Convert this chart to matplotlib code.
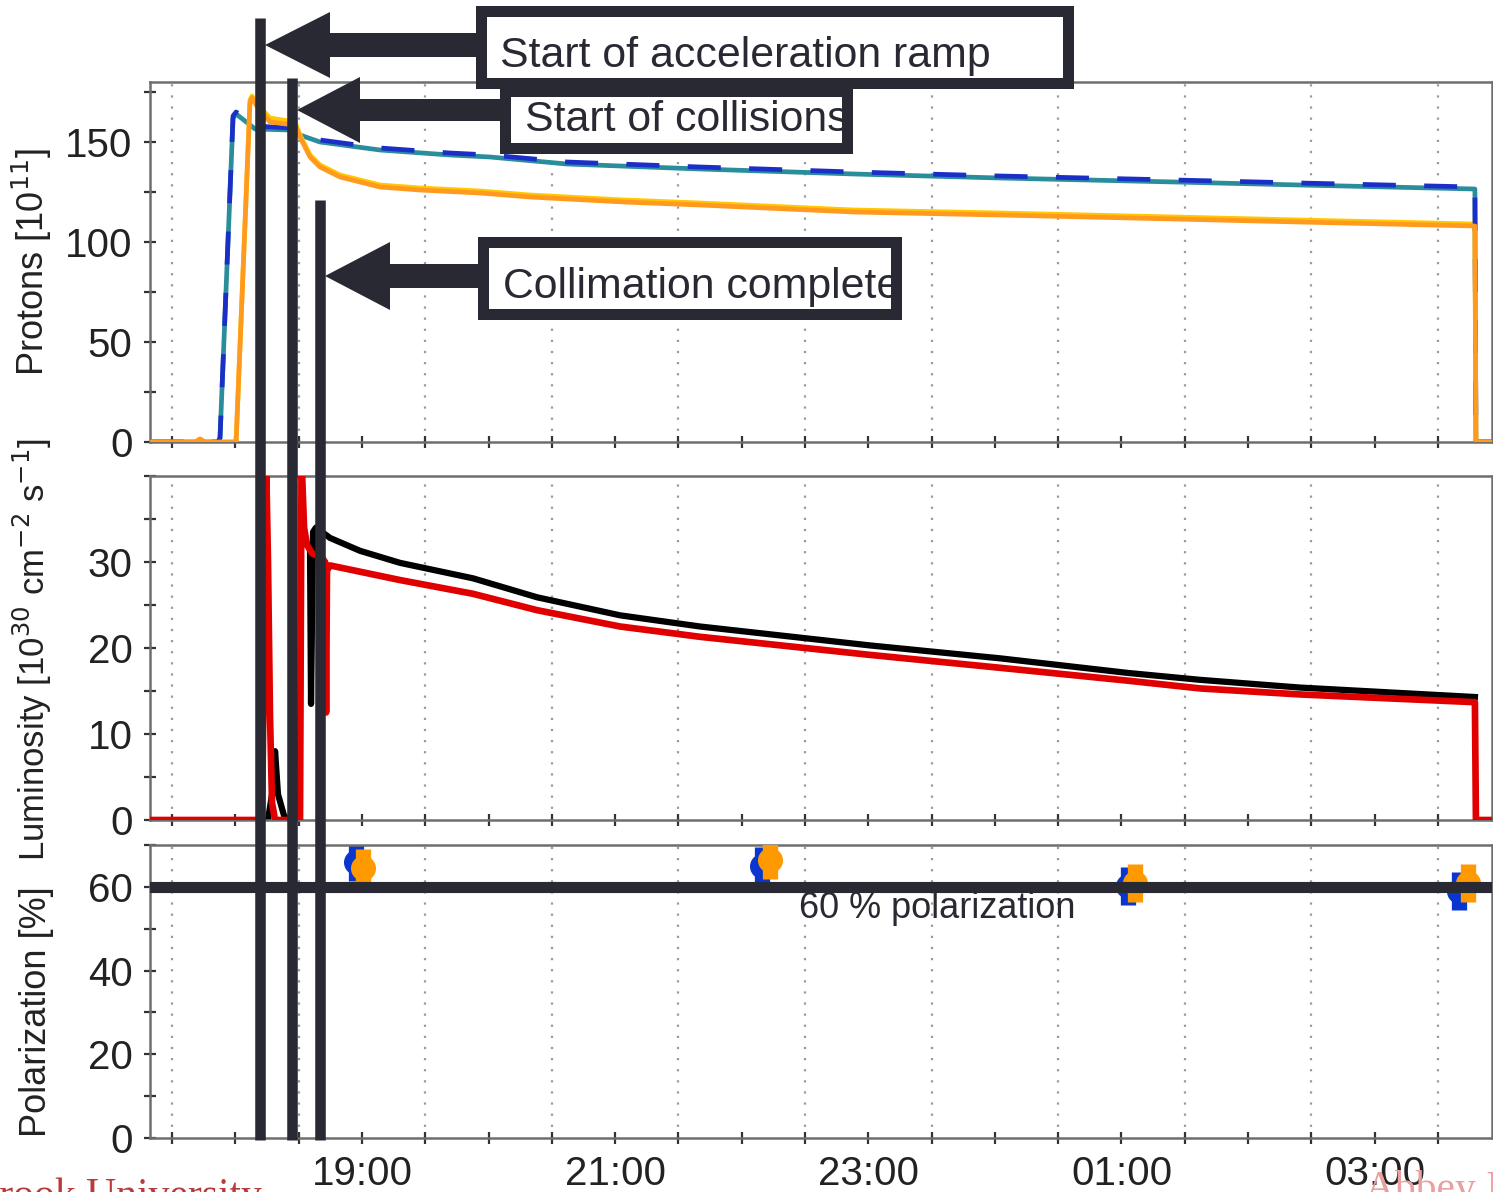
import numpy as np
import matplotlib
matplotlib.use('Agg')
import matplotlib.pyplot as plt
from matplotlib.patches import Polygon, Rectangle
from matplotlib.lines import Line2D
from matplotlib.transforms import blended_transform_factory
from matplotlib.ticker import MultipleLocator, FixedLocator

plt.rcParams['font.family'] = ['Liberation Sans', 'DejaVu Sans']

W, H = 1493, 1192

# ---------------- data (time in hours after 17:00) ----------------
# Protons, blue beam (two overlapping traces)
t_blue = [0.33, 0.863, 0.879, 0.982, 1.006, 1.077, 1.156, 1.432, 1.487, 1.511, 1.669, 2.143,
          2.696, 3.012, 3.620, 4.671, 5.887, 7.040, 8.423, 9.410, 10.792, 10.800, 10.927]
blue = [0, 0, 2, 163, 165, 162, 158, 157, 156, 154.5, 151, 147,
        144.5, 143.5, 140, 137.5, 135, 133, 131, 129.5, 127.5, 0, 0]
teal = [0, 0, 2, 162, 164, 160.5, 156.5, 156, 155, 153.5, 150, 146,
        143.5, 142.5, 139, 136.5, 134, 132, 130, 128.5, 126.5, 0, 0]

# Protons, yellow beam (two overlapping traces)
t_yel = [0.33, 0.682, 0.721, 0.761, 1.006, 1.116, 1.132, 1.179, 1.274, 1.472, 1.511, 1.590,
         1.669, 1.827, 2.143, 2.459, 2.933, 3.328, 4.070, 4.671, 5.887, 7.040, 8.423, 9.410,
         10.792, 10.800, 10.927]
orange = [0, 0, 1.5, 0, 0, 170, 172, 167, 160, 158.5, 152.5, 142.5,
          137.5, 132.5, 127.5, 126, 124.5, 122.5, 120, 118.5, 115, 113.5, 111.5, 110,
          108, 0, 0]
yellow = [0, 0, 1.5, 0, 0, 171, 173, 168.5, 162, 160, 153.5, 143.5,
          138.5, 133.5, 128.5, 127, 125.5, 123.5, 121, 119.5, 116, 114.5, 112.5, 111,
          109, 0, 0]

# Luminosity, two experiments
t_black = [1.258, 1.290, 1.314, 1.337, 1.385, 1.416, np.nan, 1.535, 1.590, 1.598, 1.614,
           1.637, 1.748, 1.985, 2.301, 2.878, 3.383, 4.039, 4.671, 6.013, 7.040, 8.051,
           8.620, 9.410, 10.792]
lum_black = [0, 3, 8, 3, 0.5, 0, np.nan, 33, 31.5, 13.5, 33.5,
             34, 32.8, 31.3, 29.9, 28.1, 25.9, 23.8, 22.5, 20.3, 18.8, 17.1,
             16.3, 15.4, 14.3]
t_red = [0.33, 1.211, 1.227, 1.243, 1.258, 1.274, 1.290, 1.314, 1.511, 1.523, 1.543, 1.566,
         1.606, 1.685, 1.709, 1.717, 1.724, 1.748, 2.301, 2.878, 3.383, 4.039, 4.671,
         6.013, 7.040, 8.051, 8.620, 9.410, 10.792, 10.800, 10.927]
lum_red = [0, 0, 20, 42, 30, 12, 2, 0, 0, 42, 34, 32,
           31, 30.5, 30, 12.5, 29, 29.6, 27.9, 26.3, 24.4, 22.5, 21.3,
           19.2, 17.7, 16.2, 15.3, 14.6, 13.7, 0, 0]

# Polarization measurements
t_pol_blue = [1.953, 5.160, 8.051, 10.666]
pol_blue = [66, 65, 60.2, 59]
err_blue = [4.5, 4.5, 4.5, 4.5]
t_pol_yel = [2.009, 5.223, 8.107, 10.737]
pol_yel = [64.5, 66.4, 61, 61]
err_yel = [4.5, 4.5, 4.5, 4.5]

pol_ref = 60
events = [1.191, 1.448, 1.665]
event_labels = ['Start of acceleration ramp', 'Start of collisions', 'Collimation complete']

xtick_pos = [2, 4, 6, 8, 10]
xtick_labels = ['19:00', '21:00', '23:00', '01:00', '03:00']

# ---------------- figure ----------------
DARK = '#292933'
fig = plt.figure(figsize=(W / 100, H / 100), dpi=100)
fig.patch.set_facecolor('white')

def rect(top, bottom):
    return [150 / W, 1 - bottom / H, 1342 / W, (bottom - top) / H]

ax1 = fig.add_axes(rect(82, 442))
ax2 = fig.add_axes(rect(476, 820))
ax3 = fig.add_axes(rect(845, 1138))

for ax in (ax1, ax2, ax3):
    ax.set_xlim(0.326, 10.927)
    ax.xaxis.set_major_locator(FixedLocator(xtick_pos))
    ax.xaxis.set_minor_locator(MultipleLocator(0.5))
    ax.tick_params(which='both', direction='inout', length=9, width=1.6, color='#333333',
                   top=False, right=False, labelsize=29, labelcolor='#222222', pad=8)
    for g in np.arange(0.5, 11, 1.0):
        ax.axvline(g, color='#9a9a9a', lw=1.6, ls=(0, (1, 4)), zorder=0)
    for s in ax.spines.values():
        s.set_color('#6e6e6e')
        s.set_linewidth(1.8)
    ax.set_xticklabels([])

ax3.set_xticklabels(xtick_labels)

# Top: protons
ax1.plot(t_blue, teal, color='#2a8d9c', lw=3.4, zorder=2)
ax1.plot(t_blue, blue, color='#1b2fc8', lw=3.4, ls=(0, (7, 6)), zorder=3)
ax1.plot(t_yel, yellow, color='#ffc800', lw=3.4, zorder=2)
ax1.plot(t_yel, orange, color='#ff9a1f', lw=3.4, zorder=3)
ax1.set_ylim(0, 180)
ax1.yaxis.set_major_locator(FixedLocator([0, 50, 100, 150]))
ax1.yaxis.set_minor_locator(MultipleLocator(25))
ax1.set_ylabel(r'Protons [10$^{11}$]', fontsize=26, color='#222222')

# Middle: luminosity
ax2.plot(t_black, lum_black, color='black', lw=4.5, zorder=2)
ax2.plot(t_red, lum_red, color='#e00000', lw=4.8, zorder=3)
ax2.set_ylim(0, 40)
ax2.yaxis.set_major_locator(FixedLocator([0, 10, 20, 30]))
ax2.yaxis.set_minor_locator(MultipleLocator(5))
ax2.set_ylabel('Luminosity [10$^{30}$ cm$^{\\mathsf{-2}}$ s$^{\\mathsf{-1}}$]', fontsize=25,
               color='#222222')

# Bottom: polarization
ax3.errorbar(t_pol_blue, pol_blue, yerr=err_blue, fmt='o', color='#0a36d0', ms=17,
             elinewidth=11, capsize=0, zorder=2)
ax3.errorbar(t_pol_yel, pol_yel, yerr=err_yel, fmt='o', color='#ff9900', ms=17,
             elinewidth=11, capsize=0, zorder=3)
ax3.axhline(pol_ref, color=DARK, lw=8, zorder=5)
ax3.text(5.453, 52.6, '60 % polarization', fontsize=26, color=DARK, va='baseline', zorder=6)
ax3.set_ylim(0, 70)
ax3.yaxis.set_major_locator(FixedLocator([0, 20, 40, 60]))
ax3.yaxis.set_minor_locator(MultipleLocator(10))
ax3.set_ylabel('Polarization [%]', fontsize=26, color='#222222')

ax1.yaxis.set_label_coords(-0.0715, 0.5)
ax2.yaxis.set_label_coords(-0.0715, 0.495)
ax3.yaxis.set_label_coords(-0.0715, 0.43)

# ---------------- annotation overlay ----------------
def P(x, y):
    return (x / W, 1 - y / H)

bt = blended_transform_factory(ax1.transData, fig.transFigure)
for ev, top in zip(events, [18, 78, 200]):
    fig.add_artist(Line2D([ev, ev], [1 - top / H, 1 - 1140 / H], transform=bt,
                          color=DARK, lw=7.6, solid_capstyle='butt', zorder=20))

def arrow(tip_x, tip_y, head_x, head_h, shaft_h, end_x):
    pts = [(tip_x, tip_y), (head_x, tip_y - head_h), (head_x, tip_y - shaft_h),
           (end_x, tip_y - shaft_h), (end_x, tip_y + shaft_h), (head_x, tip_y + shaft_h),
           (head_x, tip_y + head_h)]
    fig.add_artist(Polygon([P(*p) for p in pts], closed=True, transform=fig.transFigure,
                           facecolor=DARK, edgecolor='none', zorder=21))

arrow(265, 45, 330, 33, 12, 480)
arrow(297, 110, 360, 33, 11, 505)
arrow(325, 276, 390, 34, 12, 483)

def box(x0, y0, x1, y1, text, tx, ty, lw_px=11):
    h = lw_px / 2
    x0c, y0c, x1c, y1c = x0 + h, y0 + h, x1 - h, y1 - h
    fig.add_artist(Rectangle(P(x0c, y1c), (x1c - x0c) / W, (y1c - y0c) / H,
                             transform=fig.transFigure, facecolor='white', edgecolor='none',
                             zorder=22))
    fig.text(tx / W, 1 - ty / H, text, fontsize=30.8, color=DARK, va='baseline', ha='left',
             zorder=23)
    fig.add_artist(Rectangle(P(x0c, y1c), (x1c - x0c) / W, (y1c - y0c) / H,
                             transform=fig.transFigure, facecolor='none', edgecolor=DARK,
                             lw=lw_px * 0.72, zorder=24, joinstyle='miter'))

box(475, 6, 1073, 88, event_labels[0], 500, 67)
box(500, 86, 853, 153, event_labels[1], 525, 131)
box(478, 237, 901, 320, event_labels[2], 503, 298)

# slide remnants at the bottom edge
fig.text(262 / W, 1 - 1177 / H, 'Stony Brook University', ha='right', va='top',
         family='Liberation Serif', fontsize=30, color='#b83a3a', zorder=1)
fig.text(1365 / W, 1 - 1170 / H, 'Abbey I', ha='left', va='top',
         family='Liberation Serif', fontsize=30, color='#e8a0a0', zorder=0)

fig.savefig('out.png', dpi=100, facecolor='white')
